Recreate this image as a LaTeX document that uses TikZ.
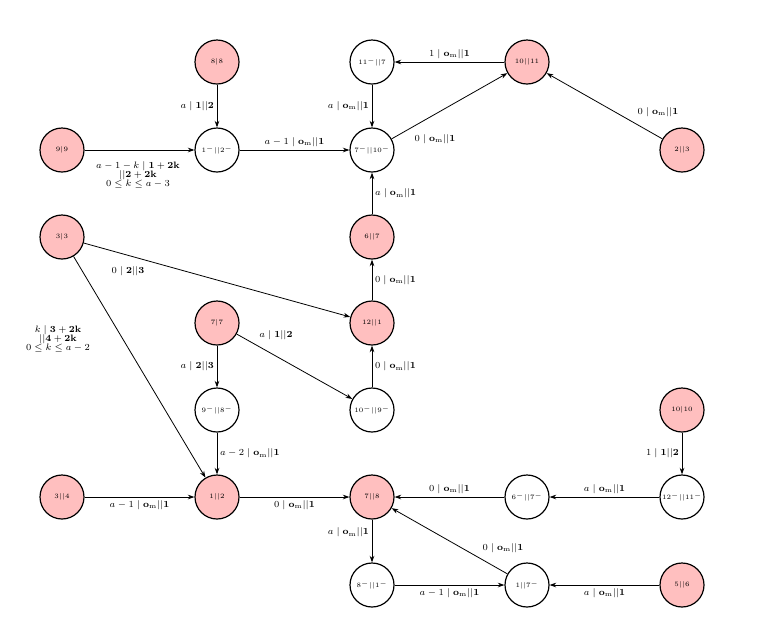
\documentclass[tikz,border=0pt]{standalone}
\usetikzlibrary{arrows.meta}
\definecolor{pk}{HTML}{FFBFBF}
\begin{document}
\begin{tikzpicture}[x=0.0265cm,y=-0.0265cm,
  st/.style={circle,draw,line width=0.9pt,minimum size=44*0.0265cm,inner sep=0pt,font=\tiny},
  fs/.style={st,fill=pk},
  ed/.style={-{Stealth[length=5pt,width=3.5pt]},line width=0.6pt},
  lb/.style={font=\scriptsize,inner sep=2pt}]
\useasboundingbox (0,0) rectangle (762,627);
\node[fs] (n88) at (217,62) {$8|8$};
\node[st] (n1m) at (217,150) {$1^{-}||2^{-}$};
\node[fs] (n99) at (62,150) {$9|9$};
\node[st] (n7m) at (372,150) {$7^{-}||10^{-}$};
\node[st] (n11) at (372,62) {$11^{-}||7$};
\node[fs] (n1011) at (527,62) {$10||11$};
\node[fs] (n23) at (682,150) {$2||3$};
\node[fs] (n67) at (372,237) {$6||7$};
\node[fs] (n121) at (372,323) {$12||1$};
\node[fs] (n33) at (62,237) {$3|3$};
\node[fs] (n77) at (217,323) {$7|7$};
\node[st] (n98) at (217,410) {$9^{-}||8^{-}$};
\node[st] (n109) at (372,410) {$10^{-}||9^{-}$};
\node[fs] (n1010) at (682,410) {$10|10$};
\node[fs] (n34) at (62,497) {$3||4$};
\node[fs] (n12) at (217,497) {$1||2$};
\node[fs] (n78) at (372,497) {$7||8$};
\node[st] (n67m) at (527,497) {$6^{-}||7^{-}$};
\node[st] (n1211) at (682,497) {$12^{-}||11^{-}$};
\node[st] (n81) at (372,585) {$8^{-}||1^{-}$};
\node[st] (n17) at (527,585) {$1||7^{-}$};
\node[fs] (n56) at (682,585) {$5||6$};

\draw[ed] (n88) -- node[lb,left]{$a\mid\mathbf{1}||\mathbf{2}$} (n1m);
\draw[ed] (n99) -- (n1m);
\node[lb,align=center] (l99) at (138,175) {$a-1-k\mid\mathbf{1+2k}$\\[-1pt]$||\mathbf{2+2k}$\\[-1pt]$0\le k\le a-3$};
\draw[ed] (n1m) -- node[lb,above]{$a-1\mid\mathbf{o}_{\mathrm{m}}||\mathbf{1}$} (n7m);
\draw[ed] (n11) -- node[lb,left]{$a\mid\mathbf{o}_{\mathrm{m}}||\mathbf{1}$} (n7m);
\draw[ed] (n1011) -- node[lb,above]{$1\mid\mathbf{o}_{\mathrm{m}}||\mathbf{1}$} (n11);
\draw[ed] (n7m) -- (n1011);
\node[lb] (l7m) at (435,139) {$0\mid\mathbf{o}_{\mathrm{m}}||\mathbf{1}$};
\draw[ed] (n23) -- (n1011);
\node[lb] (l23) at (658,112) {$0\mid\mathbf{o}_{\mathrm{m}}||\mathbf{1}$};
\draw[ed] (n67) -- node[lb,right]{$a\mid\mathbf{o}_{\mathrm{m}}||\mathbf{1}$} (n7m);
\draw[ed] (n121) -- node[lb,right]{$0\mid\mathbf{o}_{\mathrm{m}}||\mathbf{1}$} (n67);
\draw[ed] (n33) -- (n121);
\node[lb] (l33) at (128,271) {$0\mid\mathbf{2}||\mathbf{3}$};
\draw[ed] (n33) -- (n12);
\node[lb,align=center] (l33b) at (58,339) {$k\mid\mathbf{3+2k}$\\[-1pt]$||\mathbf{4+2k}$\\[-1pt]$0\le k\le a-2$};
\draw[ed] (n77) -- node[lb,left]{$a\mid\mathbf{2}||\mathbf{3}$} (n98);
\draw[ed] (n77) -- (n109);
\node[lb] (l77) at (276,335) {$a\mid\mathbf{1}||\mathbf{2}$};
\draw[ed] (n109) -- node[lb,right]{$0\mid\mathbf{o}_{\mathrm{m}}||\mathbf{1}$} (n121);
\draw[ed] (n98) -- node[lb,right]{$a-2\mid\mathbf{o}_{\mathrm{m}}||\mathbf{1}$} (n12);
\draw[ed] (n34) -- node[lb,below]{$a-1\mid\mathbf{o}_{\mathrm{m}}||\mathbf{1}$} (n12);
\draw[ed] (n12) -- node[lb,below]{$0\mid\mathbf{o}_{\mathrm{m}}||\mathbf{1}$} (n78);
\draw[ed] (n67m) -- node[lb,above]{$0\mid\mathbf{o}_{\mathrm{m}}||\mathbf{1}$} (n78);
\draw[ed] (n1211) -- node[lb,above]{$a\mid\mathbf{o}_{\mathrm{m}}||\mathbf{1}$} (n67m);
\draw[ed] (n1010) -- node[lb,left]{$1\mid\mathbf{1}||\mathbf{2}$} (n1211);
\draw[ed] (n78) -- node[lb,left,pos=0.3]{$a\mid\mathbf{o}_{\mathrm{m}}||\mathbf{1}$} (n81);
\draw[ed] (n81) -- node[lb,below]{$a-1\mid\mathbf{o}_{\mathrm{m}}||\mathbf{1}$} (n17);
\draw[ed] (n17) -- (n78);
\node[lb] (l17) at (503,548) {$0\mid\mathbf{o}_{\mathrm{m}}||\mathbf{1}$};
\draw[ed] (n56) -- node[lb,below]{$a\mid\mathbf{o}_{\mathrm{m}}||\mathbf{1}$} (n17);
\end{tikzpicture}
\end{document}
